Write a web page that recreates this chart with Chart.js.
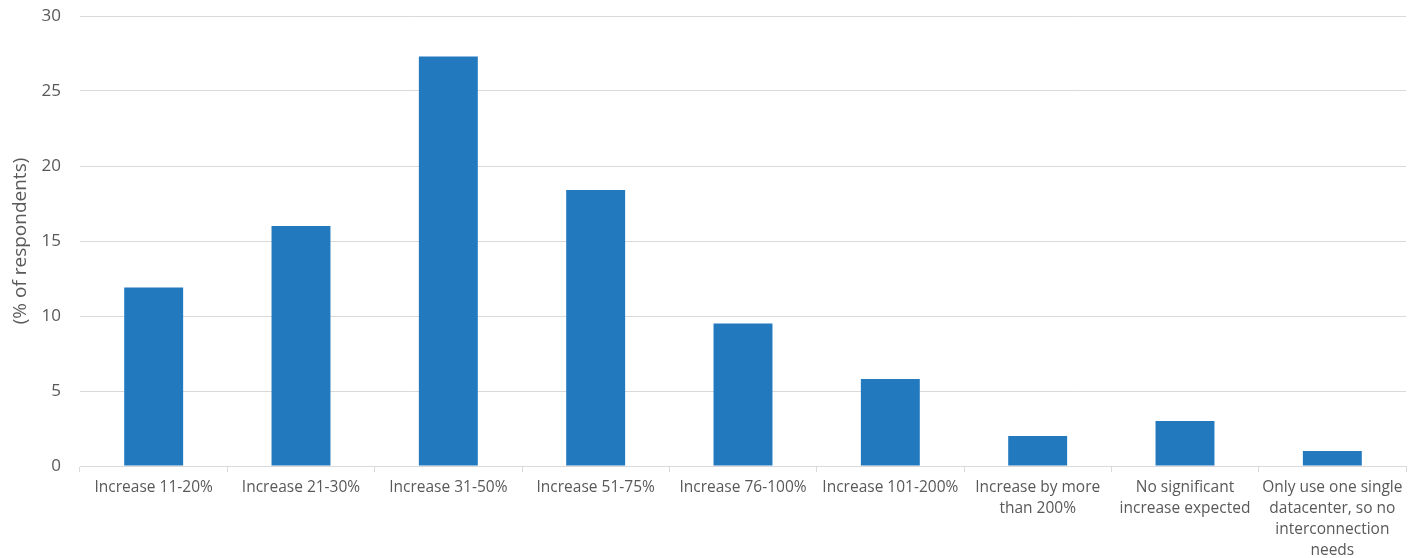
<!DOCTYPE html>
<html>
<head>
<meta charset="utf-8">
<script src="https://cdn.jsdelivr.net/npm/chart.js@4.4.1/dist/chart.umd.min.js"></script>
<style>
    html, body { margin: 0; padding: 0; background: #ffffff; }
    #wrap { width: 1418px; height: 558px; position: relative; }
</style>
</head>
<body>
<div id="wrap"><canvas id="chart"></canvas></div>
<script>
const categories = [
    'Increase 11-20%',
    'Increase 21-30%',
    'Increase 31-50%',
    'Increase 51-75%',
    'Increase 76-100%',
    'Increase 101-200%',
    ['Increase by more', 'than 200%'],
    ['No significant', 'increase expected'],
    ['Only use one single', 'datacenter, so no', 'interconnection', 'needs']
];
const respondents = [11.9, 16.0, 27.3, 18.4, 9.5, 5.8, 2.0, 3.0, 1.0];
const yTicks = [0, 5, 10, 15, 20, 25, 30];
const yTitle = '(% of respondents)';

const textColor = '#595959';
const gridColor = '#d9d9d9';

const ctx = document.getElementById('chart').getContext('2d');
new Chart(ctx, {
    type: 'bar',
    data: {
        labels: categories,
        datasets: [{
            data: respondents,
            backgroundColor: '#2379be',
            borderWidth: 0,
            categoryPercentage: 1,
            barPercentage: 0.4
        }]
    },
    options: {
        responsive: true,
        maintainAspectRatio: false,
        animation: false,
        layout: { padding: { top: 16, right: 12, bottom: 0, left: 0 } },
        plugins: { legend: { display: false }, tooltip: { enabled: false } },
        scales: {
            x: {
                grid: { drawOnChartArea: false, drawTicks: true, tickLength: 6, color: gridColor },
                border: { display: true, color: gridColor, width: 1 },
                ticks: {
                    color: textColor,
                    font: { family: 'Open Sans', size: 15.5, lineHeight: 1.35 },
                    padding: 5,
                    maxRotation: 0,
                    autoSkip: false
                },
                afterFit: (scale) => { scale.height = 92; }
            },
            y: {
                min: 0,
                max: 30,
                afterBuildTicks: (scale) => { scale.ticks = yTicks.map(v => ({ value: v })); },
                grid: { color: gridColor, drawTicks: false },
                border: { display: false },
                ticks: {
                    color: textColor,
                    font: { family: 'Open Sans', size: 17 },
                    padding: 19
                },
                title: {
                    display: true,
                    text: yTitle,
                    color: textColor,
                    font: { family: 'Open Sans', size: 19 },
                    padding: { top: 9, bottom: 0 }
                },
                afterFit: (scale) => {
                    scale.width = 80;
                    scale.paddingTop = 0;
                    scale.paddingBottom = 0;
                }
            }
        }
    }
});
</script>
</body>
</html>
